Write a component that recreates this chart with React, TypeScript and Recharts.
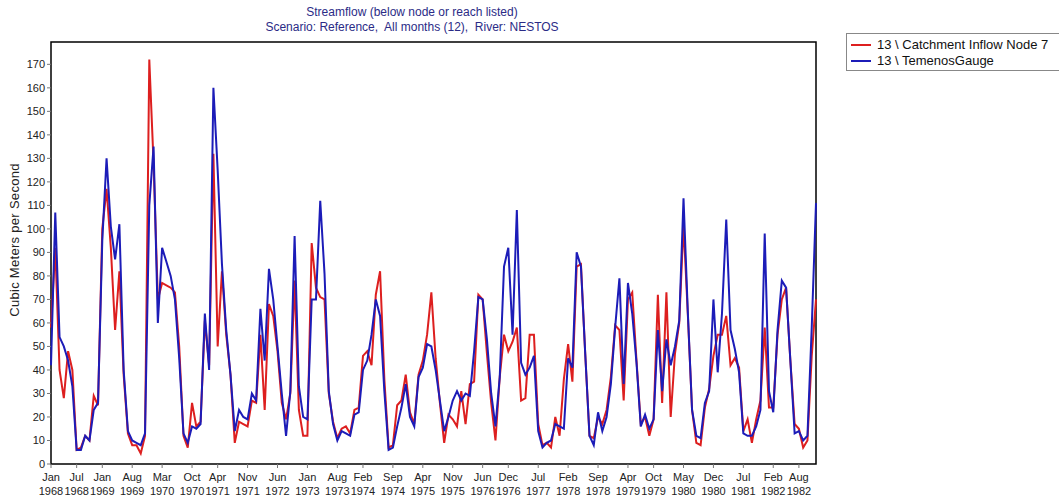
import { LineChart, Line, XAxis, YAxis, ReferenceArea, Label } from "recharts";

// monthly flow, Jan 1968 .. Dec 1982 (index 0..179)
const inflowNode7 = [
  58, 92, 40, 28, 48, 40, 6, 7, 12, 10, 29, 25,
  100, 117, 92, 57, 82, 38, 13, 8, 8, 4.5, 12, 172,
  128, 70, 77, 76, 75, 73, 50, 12, 7, 26, 16, 18,
  61, 42, 132, 50, 82, 55, 38, 9, 18, 17, 16, 27,
  26, 55, 23, 68, 63, 48, 26, 19, 30, 78, 23, 12,
  12, 94, 75, 71, 70, 30, 18, 11, 15, 16, 13, 23,
  24, 46, 48, 42, 72, 82, 36, 7, 8, 25, 27, 38,
  22, 17, 38, 44, 55, 73, 45, 26, 9, 21, 19, 16,
  31, 17, 34, 35, 72, 70, 47, 26, 10, 37, 55, 48,
  52, 58, 27, 28, 55, 55, 17, 8, 9, 7, 20, 12,
  36, 51, 35, 84, 85, 47, 12, 11, 20, 17, 23, 37,
  59, 57, 27, 70, 73, 44, 17, 20, 12, 19, 72, 26,
  73, 20, 47, 60, 102, 64, 23, 9, 8, 24, 32, 46,
  55, 55, 63, 42, 45, 41, 14, 19, 9, 19, 27, 58,
  24, 24, 55, 70, 75, 44, 17, 15, 7, 10, 46, 70,
];

const temenosGauge = [
  42, 107, 54, 50, 44, 33, 6, 6, 12, 10, 23, 26,
  95, 130, 101, 87, 102, 40, 14, 10, 9, 8, 13, 110,
  135, 60, 92, 86, 80, 70, 45, 13, 9, 16, 15, 17,
  64, 40, 160, 125, 85, 57, 38, 14, 23, 20, 19, 30,
  27, 66, 44, 83, 70, 50, 30, 12, 31, 97, 33, 20,
  19, 70, 70, 112, 81, 31, 17, 10, 14, 13, 12, 21,
  22, 40, 44, 55, 70, 63, 31, 6, 7, 16, 24, 34,
  20, 16, 37, 41, 51, 50, 40, 27, 14, 20, 27, 31,
  27, 30, 29, 48, 71, 70, 53, 30, 16, 37, 84, 92,
  55, 108, 43, 38, 41, 46, 14, 7, 9, 10, 17, 16,
  15, 45, 41, 90, 84, 47, 12, 8, 22, 14, 20, 34,
  58, 79, 34, 77, 64, 43, 16, 21, 15, 19, 57, 31,
  53, 42, 50, 61, 113, 65, 23, 12, 11, 26, 31, 70,
  39, 64, 104, 57, 49, 39, 13, 12, 12, 16, 23, 98,
  31, 22, 57, 78, 75, 44, 13, 14, 10, 12, 58, 111,
];

const tickIndex = [0, 6, 12, 19, 26, 33, 39, 46, 53, 60, 67, 73, 80, 87, 94, 101, 107, 114, 121, 128, 135, 141, 148, 155, 162, 169, 175];
const tickMonth = ["Jan", "Jul", "Jan", "Aug", "Mar", "Oct", "Apr", "Nov", "Jun", "Jan", "Aug", "Feb", "Sep", "Apr", "Nov", "Jun", "Dec", "Jul", "Feb", "Sep", "Apr", "Oct", "May", "Dec", "Jul", "Feb", "Aug"];
const tickYear = ["1968", "1968", "1969", "1969", "1970", "1970", "1971", "1971", "1972", "1973", "1973", "1974", "1974", "1975", "1975", "1976", "1976", "1977", "1978", "1978", "1979", "1979", "1980", "1980", "1981", "1982", "1982"];
const yTicks = [0, 10, 20, 30, 40, 50, 60, 70, 80, 90, 100, 110, 120, 130, 140, 150, 160, 170];

const data = inflowNode7.map((v, i) => ({ i, inflow: v, gauge: temenosGauge[i] }));

const FONT = '"Liberation Sans", Arial, sans-serif';
const RED = "#dd1f1f";
const BLUE = "#1c1cb8";

function XTick({ x, y, payload }: any) {
  const k = tickIndex.indexOf(payload.value);
  return (
    <g>
      <text x={x} y={y + 11} textAnchor="middle" fontSize={11} fill="#222" fontFamily={FONT}>
        {tickMonth[k]}
      </text>
      <text x={x} y={y + 25} textAnchor="middle" fontSize={11} fill="#222" fontFamily={FONT}>
        {tickYear[k]}
      </text>
    </g>
  );
}

export default function App() {
  return (
    <div style={{ position: "absolute", left: 0, top: 0, width: 1059, height: 502, background: "#fff", fontFamily: FONT }}>
      <div style={{ position: "absolute", left: 212, top: 5, width: 400, textAlign: "center", fontSize: 12, lineHeight: "15px", color: "#2b2b86" }}>
        <div>Streamflow (below node or reach listed)</div>
        <div style={{ whiteSpace: "pre" }}>Scenario: Reference,  All months (12),  River: NESTOS</div>
      </div>

      <div style={{ position: "absolute", left: 846, top: 33, width: 230, height: 38, border: "1px solid #888", boxSizing: "border-box", fontSize: 13, color: "#111" }}>
        <div style={{ position: "absolute", left: 4, top: 3, display: "flex", alignItems: "center", whiteSpace: "nowrap" }}>
          <span style={{ display: "inline-block", width: 20, height: 2, background: RED, marginRight: 6 }} />
          13 \ Catchment Inflow Node 7
        </div>
        <div style={{ position: "absolute", left: 4, top: 19, display: "flex", alignItems: "center", whiteSpace: "nowrap" }}>
          <span style={{ display: "inline-block", width: 20, height: 2, background: BLUE, marginRight: 6 }} />
          13 \ TemenosGauge
        </div>
      </div>

      <LineChart
        width={1059}
        height={502}
        data={data}
        margin={{ top: 42, right: 243, bottom: 0, left: 11 }}
        style={{ position: "absolute", left: 0, top: 0 }}
      >
        <XAxis
          dataKey="i"
          type="number"
          domain={[0, 179]}
          ticks={tickIndex}
          interval={0}
          tick={<XTick />}
          tickSize={4}
          tickLine={{ stroke: "#777" }}
          axisLine={false}
          height={38}
          allowDecimals={false}
        />
        <YAxis
          type="number"
          domain={[0, 179.5]}
          ticks={yTicks}
          interval={0}
          width={40}
          tickSize={4}
          tickMargin={2}
          tickLine={{ stroke: "#777" }}
          axisLine={false}
          tick={{ fontSize: 11, fill: "#222", fontFamily: FONT }}
        >
          <Label
            content={() => (
              <text
                x={16}
                y={240}
                transform="rotate(-90 16 240)"
                textAnchor="middle"
                dominantBaseline="middle"
                fontSize={13}
                letterSpacing={0.3}
                fill="#222"
                fontFamily={FONT}
              >
                Cubic Meters per Second
              </text>
            )}
          />
        </YAxis>
        <Line type="linear" dataKey="inflow" stroke={RED} strokeWidth={2} dot={false} isAnimationActive={false} />
        <Line type="linear" dataKey="gauge" stroke={BLUE} strokeWidth={2} dot={false} isAnimationActive={false} />
        <ReferenceArea x1={0} x2={179} y1={0} y2={179.5} stroke="#000" strokeWidth={1.5} fill="none" fillOpacity={0} />
      </LineChart>
    </div>
  );
}
